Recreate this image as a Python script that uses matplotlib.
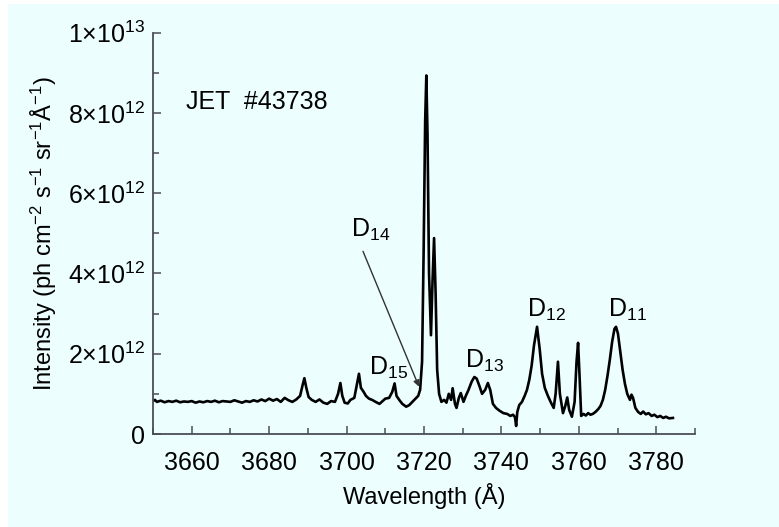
import matplotlib
matplotlib.use("Agg")
import matplotlib.pyplot as plt
from matplotlib.patches import Rectangle
import numpy as np

plt.rcParams['font.family'] = ['Liberation Sans', 'DejaVu Sans']
plt.rcParams['mathtext.default'] = 'regular'

# spectrum: wavelength (A) and intensity (1e12 ph cm-2 s-1 sr-1 A-1)
wavelength = [
    3650.0, 3650.5, 3651.0, 3652.0, 3653.0, 3654.0, 3655.0, 3656.0, 3657.0, 3658.0,
    3659.0, 3660.0, 3661.0, 3662.0, 3663.0, 3664.0, 3665.0, 3666.0, 3667.0, 3668.0,
    3669.0, 3670.0, 3671.0, 3672.0, 3673.0, 3674.0, 3675.0, 3676.0, 3677.0, 3678.0,
    3679.0, 3680.0, 3681.0, 3682.0, 3683.0, 3684.0, 3685.0, 3686.0, 3687.0, 3688.0,
    3688.6, 3689.1, 3689.6, 3690.2, 3691.0, 3692.0, 3693.0, 3694.0, 3695.0, 3696.0,
    3697.0, 3697.8, 3698.4, 3698.9, 3699.5, 3700.3, 3701.0, 3702.0, 3702.7, 3703.2,
    3703.7, 3704.4, 3705.0, 3705.8, 3706.6, 3707.5, 3708.5, 3709.3, 3710.0, 3711.0,
    3711.8, 3712.4, 3712.9, 3713.6, 3714.4, 3715.4, 3716.2, 3717.0, 3717.8, 3718.5,
    3719.0, 3719.5, 3719.9, 3720.3, 3720.6, 3720.9, 3721.3, 3721.8, 3722.2, 3722.6,
    3723.0, 3723.4, 3723.9, 3724.5, 3725.2, 3725.8, 3726.4, 3727.0, 3727.4, 3728.0,
    3728.4, 3729.0, 3729.5, 3730.2, 3730.8, 3731.5, 3732.3, 3733.0, 3733.6, 3734.3,
    3735.0, 3735.8, 3736.5, 3737.1, 3737.8, 3738.6, 3739.5, 3740.5, 3741.5, 3742.3,
    3743.0, 3743.5, 3743.8, 3744.1, 3744.6, 3745.3, 3746.0, 3746.6, 3747.2, 3747.8,
    3748.4, 3749.2, 3749.9, 3750.5, 3751.2, 3752.0, 3752.8, 3753.5, 3754.0, 3754.6,
    3755.1, 3755.9, 3756.5, 3757.0, 3757.5, 3758.2, 3758.9, 3759.4, 3759.8, 3760.2,
    3760.6, 3761.2, 3761.8, 3762.4, 3763.0, 3763.6, 3764.3, 3765.0, 3765.6, 3766.2,
    3766.8, 3767.4, 3768.0, 3768.6, 3769.2, 3769.6, 3770.1, 3770.7, 3771.3, 3771.9,
    3772.5, 3773.2, 3773.6, 3774.0, 3774.6, 3775.3, 3776.0, 3776.6, 3777.3, 3778.0,
    3778.8, 3779.5, 3780.3, 3781.0, 3781.8, 3782.5, 3783.3, 3784.3,
]
intensity = [
    0.82, 0.85, 0.80, 0.83, 0.79, 0.82, 0.80, 0.83, 0.79, 0.81,
    0.80, 0.82, 0.78, 0.81, 0.79, 0.82, 0.80, 0.83, 0.79, 0.82,
    0.81, 0.80, 0.84, 0.81, 0.78, 0.82, 0.80, 0.84, 0.81, 0.86,
    0.82, 0.88, 0.83, 0.87, 0.80, 0.90, 0.84, 0.80, 0.86, 0.95,
    1.20, 1.39, 1.15, 0.92, 0.85, 0.80, 0.86, 0.78, 0.75, 0.82,
    0.80, 1.00, 1.27, 0.95, 0.78, 0.76, 0.85, 0.90, 1.25, 1.50,
    1.15, 1.05, 0.95, 0.88, 0.85, 0.80, 0.75, 0.82, 0.88, 0.90,
    1.05, 1.26, 0.95, 0.85, 0.75, 0.68, 0.72, 0.80, 0.88, 0.95,
    1.10, 1.80, 4.50, 7.80, 8.93, 7.50, 4.00, 2.46, 3.80, 4.88,
    3.50, 1.60, 1.00, 0.80, 0.85, 0.78, 1.00, 0.85, 1.14, 0.75,
    0.65, 0.90, 1.02, 0.80, 0.95, 1.10, 1.30, 1.42, 1.38, 1.20,
    1.00, 1.10, 1.27, 1.10, 0.75, 0.65, 0.58, 0.52, 0.50, 0.45,
    0.48, 0.42, 0.20, 0.55, 0.72, 0.80, 0.95, 1.10, 1.35, 1.70,
    2.20, 2.67, 2.10, 1.50, 1.15, 0.95, 0.78, 0.65, 1.00, 1.80,
    1.00, 0.52, 0.70, 0.91, 0.60, 0.43, 0.80, 1.80, 2.27, 1.40,
    0.45, 0.50, 0.46, 0.52, 0.48, 0.50, 0.55, 0.62, 0.70, 0.85,
    1.10, 1.45, 1.85, 2.30, 2.62, 2.67, 2.50, 2.05, 1.60, 1.25,
    1.00, 0.85, 0.98, 0.90, 0.65, 0.55, 0.50, 0.56, 0.49, 0.52,
    0.45, 0.48, 0.42, 0.45, 0.40, 0.43, 0.39, 0.40,
]

x_ticks = [3660, 3680, 3700, 3720, 3740, 3760, 3780]
y_ticks = [0, 2e12, 4e12, 6e12, 8e12, 1e13]
y_ticklabels = ['0', r'$2{\times}10^{12}$', r'$4{\times}10^{12}$', r'$6{\times}10^{12}$',
                r'$8{\times}10^{12}$', r'$1{\times}10^{13}$']

# line labels: text, x (A), y (intensity)
line_labels = [
    ('D$_{15}$', 3705.7, 1.47e12),
    ('D$_{13}$', 3730.5, 1.64e12),
    ('D$_{12}$', 3746.7, 2.91e12),
    ('D$_{11}$', 3767.4, 2.91e12),
]

bg = '#ecfefe'
fig = plt.figure(figsize=(7.79, 5.27), dpi=100, facecolor='white')
fig.patches.append(Rectangle((8 / 779, 0), 1, 1 - 4 / 527, transform=fig.transFigure,
                             facecolor=bg, edgecolor='none', zorder=-10))
ax = fig.add_axes([153 / 779, 1 - 434 / 527, (695 - 153) / 779, (434 - 32.5) / 527])
ax.set_facecolor(bg)

y = np.array(intensity) * 1e12
ax.plot(wavelength, y, color='black', lw=1.9, solid_joinstyle='round')

ax.set_xlim(3650, 3790)
ax.set_ylim(0, 1e13)
ax.set_xticks(x_ticks)
ax.set_xticks(np.arange(3650, 3791, 10), minor=True)
ax.set_yticks(y_ticks)
ax.set_yticklabels(y_ticklabels)
ax.set_yticks(np.arange(0, 1.01e13, 1e12), minor=True)

axis_col = '#4d4d57'
for side in ['top', 'right']:
    ax.spines[side].set_visible(False)
for side in ['left', 'bottom']:
    ax.spines[side].set_color(axis_col)
    ax.spines[side].set_linewidth(1.3)
ax.tick_params(which='both', direction='in', colors=axis_col, width=1.1, labelcolor='black',
               labelsize=18)
ax.tick_params(which='major', length=6)
ax.tick_params(which='minor', length=4)
ax.tick_params(axis='y', pad=6)
ax.tick_params(axis='x', pad=12)

ax.set_xlabel('Wavelength (Å)', fontsize=17, labelpad=6)
ax.set_ylabel('Intensity (ph cm$^{-2}$ s$^{-1}$ sr$^{-1}$Å$^{-1}$)', fontsize=17, labelpad=6)

ax.text(3658.5, 8.1e12, 'JET  #43738', fontsize=18, ha='left', va='baseline')

for txt, lx, ly in line_labels:
    ax.text(lx, ly, txt, fontsize=18, ha='left', va='baseline')

ax.annotate('D$_{14}$', xy=(3718.7, 1.18e12), xytext=(3701.2, 4.9e12), fontsize=18,
            ha='left', va='baseline',
            arrowprops=dict(arrowstyle='-|>', color='#333333', lw=1.0, mutation_scale=9,
                            shrinkA=0, shrinkB=0, relpos=(0.3, -0.3)))

fig.savefig('out.png', dpi=100, facecolor=fig.get_facecolor())
